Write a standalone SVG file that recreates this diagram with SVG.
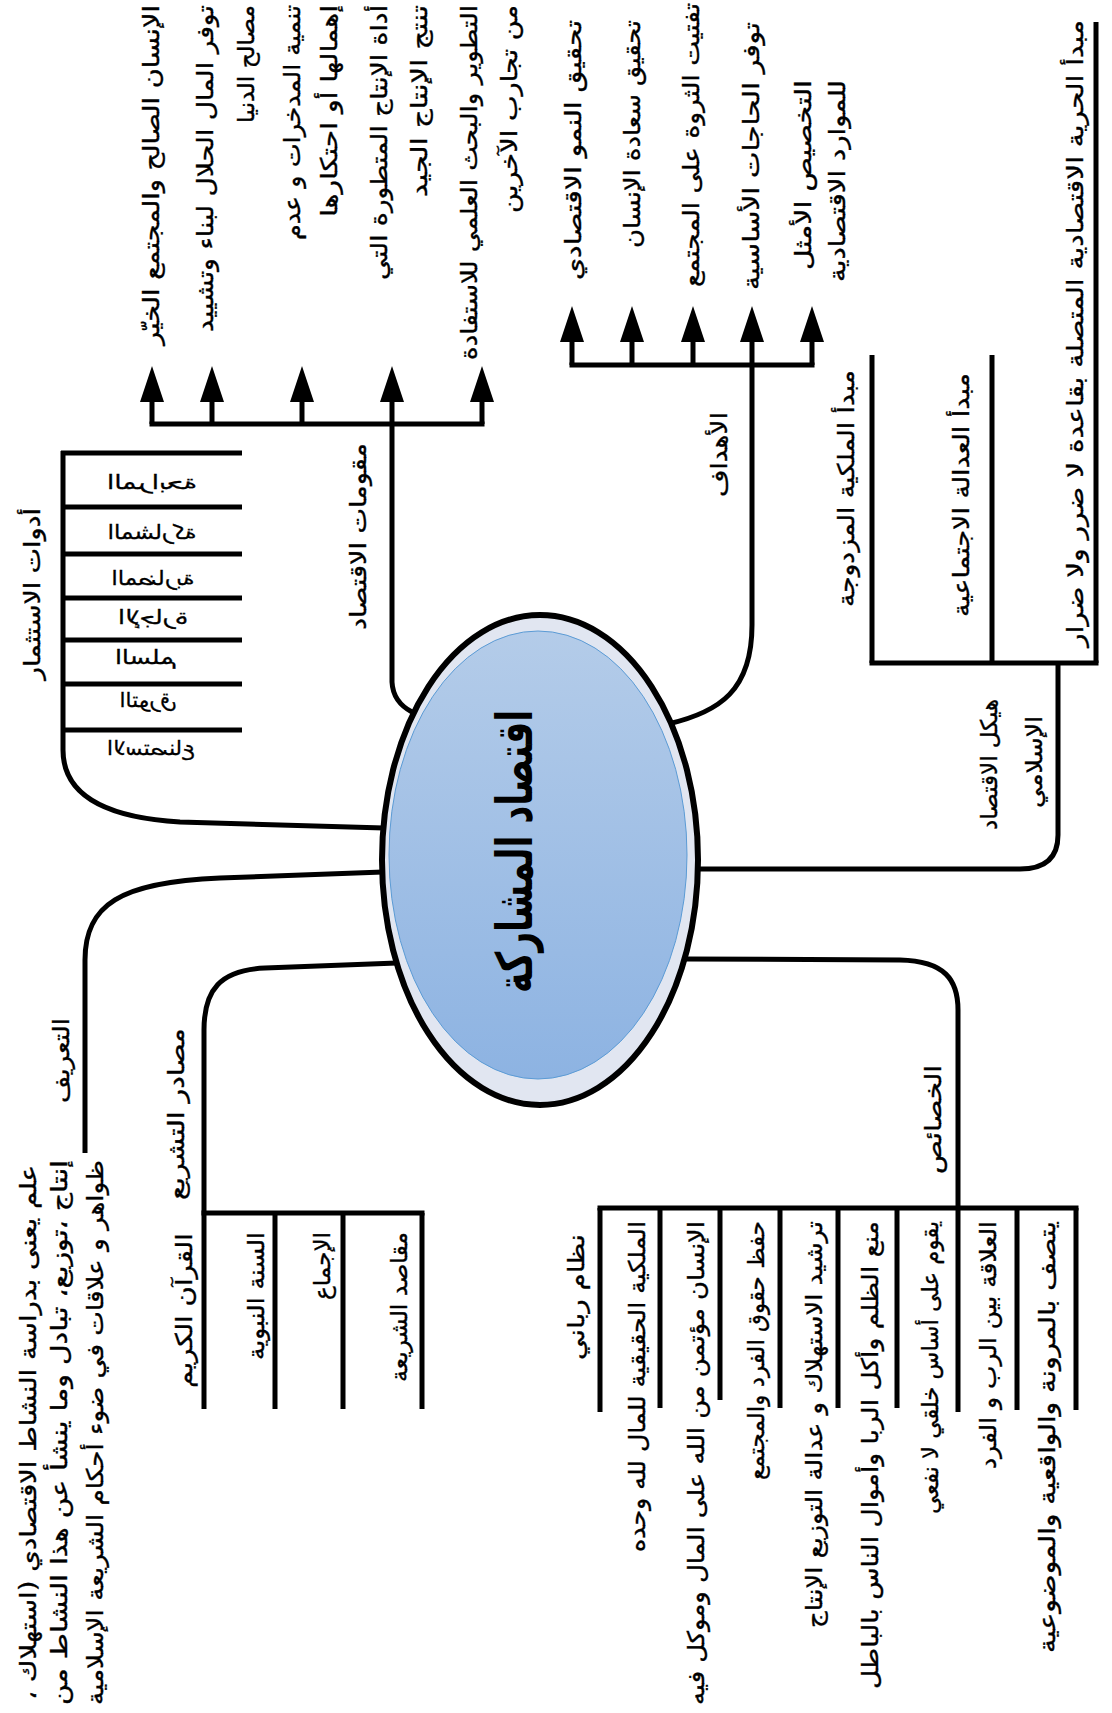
<svg xmlns="http://www.w3.org/2000/svg" width="1112" height="1713" viewBox="0 0 1112 1713">
<defs>
<linearGradient id="gBlue" x1="0" y1="0" x2="0" y2="1">
<stop offset="0" stop-color="#b4cce9"/>
<stop offset="1" stop-color="#8db3e2"/>
</linearGradient>
<marker id="ah" markerUnits="userSpaceOnUse" viewBox="0 0 36 24" markerWidth="36" markerHeight="24" refX="1" refY="12" orient="auto">
<path d="M0,0 L36,12 L0,24 Z" fill="#000"/>
</marker>
<style>
.ln{fill:none;stroke:#000;stroke-width:5}
.ar{fill:none;stroke:#000;stroke-width:5;marker-end:url(#ah)}
.t{font-family:"DejaVu Sans",sans-serif;font-size:23px;fill:#000;stroke:#000;stroke-width:0.35;direction:rtl;text-anchor:middle}
.c{font-family:"DejaVu Sans",sans-serif;font-size:50px;font-weight:bold;fill:#000;direction:rtl;text-anchor:middle}
.g{font-family:"DejaVu Sans",sans-serif;font-size:20px;fill:#000;stroke:#000;stroke-width:0.3;direction:rtl;text-anchor:middle}
</style>
</defs>
<rect width="1112" height="1713" fill="#fff"/>

<g id="connectors">
<path class="ln" d="M149.5,424 H484.5"/>
<path class="ar" d="M152,424 V401"/>
<path class="ar" d="M212,424 V401"/>
<path class="ar" d="M302,424 V401"/>
<path class="ar" d="M392,424 V401"/>
<path class="ar" d="M482,424 V401"/>
<path class="ln" d="M392,422 V682 Q393,702 412,712"/>
<path class="ln" d="M569.5,365 H814.5"/>
<path class="ar" d="M572,365 V341"/>
<path class="ar" d="M632,365 V341"/>
<path class="ar" d="M693,365 V341"/>
<path class="ar" d="M752,365 V341"/>
<path class="ar" d="M812,365 V341"/>
<path class="ln" d="M752,363 V625 C752,690 720,712 668,724"/>
<path class="ln" d="M869.5,663 H1098.5"/>
<path class="ln" d="M872,663 V355"/>
<path class="ln" d="M992,663 V355"/>
<path class="ln" d="M1096,663 V22"/>
<path class="ln" d="M1058,661 V835 Q1058,869 1020,869 H697"/>
<path class="ln" d="M63,451 V750 Q63,815 180,822 L384,828"/>
<path class="ln" d="M61,453 H242"/>
<path class="ln" d="M63,507 H242"/>
<path class="ln" d="M63,554 H242"/>
<path class="ln" d="M63,598 H242"/>
<path class="ln" d="M63,640 H242"/>
<path class="ln" d="M63,684 H242"/>
<path class="ln" d="M63,730 H242"/>
<path class="ln" d="M383,872 L220,878 C120,882 85,905 85,960 V1153"/>
<path class="ln" d="M397,963 L265,968 C220,970 204,990 204,1030 V1409"/>
<path class="ln" d="M201.5,1213 H424.5"/>
<path class="ln" d="M275,1213 V1409"/>
<path class="ln" d="M343,1213 V1409"/>
<path class="ln" d="M422,1213 V1409"/>
<path class="ln" d="M686,959 L900,960 C945,961 958,980 958,1010 V1412"/>
<path class="ln" d="M597.5,1208 H1078.5"/>
<path class="ln" d="M600,1208 V1412"/>
<path class="ln" d="M660,1208 V1408"/>
<path class="ln" d="M720,1208 V1400"/>
<path class="ln" d="M780,1208 V1408"/>
<path class="ln" d="M838,1208 V1408"/>
<path class="ln" d="M897,1208 V1408"/>
<path class="ln" d="M1017,1208 V1410"/>
<path class="ln" d="M1076,1208 V1410"/>
</g>

<g id="center">
<ellipse cx="540" cy="860" rx="158" ry="245" fill="#e1e6f1" stroke="#000" stroke-width="6"/>
<ellipse cx="538" cy="855" rx="149" ry="224" fill="url(#gBlue)" stroke="#5b9bd5" stroke-width="1"/>
<text class="c" transform="translate(532,851.5) rotate(-90)" textLength="283" lengthAdjust="spacingAndGlyphs">اقتصاد المشاركة</text>
</g>

<g id="n-muqawwimat">
<text class="t" transform="translate(366,536.5) rotate(-90)" textLength="187" lengthAdjust="spacingAndGlyphs">مقومات الاقتصاد</text>
</g>
<g id="n-muq-1"><text class="t" transform="translate(159,175) rotate(-90)" textLength="340" lengthAdjust="spacingAndGlyphs">الإنسان الصالح والمجتمع الخيّر</text></g>
<g id="n-muq-2">
<text class="t" transform="translate(213,168.5) rotate(-90)" textLength="327" lengthAdjust="spacingAndGlyphs">توفر المال الحلال لبناء وتشييد</text>
<text class="t" transform="translate(254,64) rotate(-90)" textLength="118" lengthAdjust="spacingAndGlyphs">مصالح الدنيا</text>
</g>
<g id="n-muq-3">
<text class="t" transform="translate(300,122.5) rotate(-90)" textLength="235" lengthAdjust="spacingAndGlyphs">تنمية المدخرات و عدم</text>
<text class="t" transform="translate(337,111) rotate(-90)" textLength="212" lengthAdjust="spacingAndGlyphs">إهمالها أو احتكارها</text>
</g>
<g id="n-muq-4">
<text class="t" transform="translate(387,142.5) rotate(-90)" textLength="275" lengthAdjust="spacingAndGlyphs">أداة الإنتاج المتطورة التي</text>
<text class="t" transform="translate(427,101) rotate(-90)" textLength="192" lengthAdjust="spacingAndGlyphs">تنتج الإنتاج الجيد</text>
</g>
<g id="n-muq-5">
<text class="t" transform="translate(477,182.5) rotate(-90)" textLength="355" lengthAdjust="spacingAndGlyphs">التطوير والبحث العلمي للاستفادة</text>
<text class="t" transform="translate(517,109) rotate(-90)" textLength="208" lengthAdjust="spacingAndGlyphs">من تجارب الآخرين</text>
</g>

<g id="n-ahdaf">
<text class="t" transform="translate(727,454.5) rotate(-90)" textLength="85" lengthAdjust="spacingAndGlyphs">الأهداف</text>
</g>
<g id="n-ahd-1"><text class="t" transform="translate(581,150) rotate(-90)" textLength="260" lengthAdjust="spacingAndGlyphs">تحقيق النمو الاقتصادي</text></g>
<g id="n-ahd-2"><text class="t" transform="translate(640,134) rotate(-90)" textLength="228" lengthAdjust="spacingAndGlyphs">تحقيق سعادة الإنسان</text></g>
<g id="n-ahd-3"><text class="t" transform="translate(699,145) rotate(-90)" textLength="284" lengthAdjust="spacingAndGlyphs">تفتيت الثروة على المجتمع</text></g>
<g id="n-ahd-4"><text class="t" transform="translate(759,156) rotate(-90)" textLength="268" lengthAdjust="spacingAndGlyphs">توفر الحاجات الأساسية</text></g>
<g id="n-ahd-5">
<text class="t" transform="translate(811,175) rotate(-90)" textLength="190" lengthAdjust="spacingAndGlyphs">التخصيص الأمثل</text>
<text class="t" transform="translate(845,181) rotate(-90)" textLength="202" lengthAdjust="spacingAndGlyphs">للموارد الاقتصادية</text>
</g>

<g id="n-haykal">
<text class="t" transform="translate(997,764.5) rotate(-90)" textLength="131" lengthAdjust="spacingAndGlyphs">هيكل الاقتصاد</text>
<text class="t" transform="translate(1042,762) rotate(-90)" textLength="92" lengthAdjust="spacingAndGlyphs">الإسلامي</text>
</g>
<g id="n-hay-1"><text class="t" transform="translate(854,488.5) rotate(-90)" textLength="237" lengthAdjust="spacingAndGlyphs">مبدأ الملكية المزدوجة</text></g>
<g id="n-hay-2"><text class="t" transform="translate(969,495) rotate(-90)" textLength="244" lengthAdjust="spacingAndGlyphs">مبدأ العدالة الاجتماعية</text></g>
<g id="n-hay-3"><text class="t" transform="translate(1083,333.5) rotate(-90)" textLength="627" lengthAdjust="spacingAndGlyphs">مبدأ الحرية الاقتصادية المتصلة بقاعدة لا ضرر ولا ضرار</text></g>

<g id="n-adawat">
<text class="t" transform="translate(40,594) rotate(-90)" textLength="172" lengthAdjust="spacingAndGlyphs">أدوات الاستثمار</text>
</g>
<g id="n-adw-items">
<text class="g" transform="translate(152,489) scale(-1,1)" textLength="90" lengthAdjust="spacingAndGlyphs">المرابحة</text>
<text class="g" transform="translate(152,539) scale(-1,1)" textLength="89" lengthAdjust="spacingAndGlyphs">المشاركة</text>
<text class="g" transform="translate(153,585) scale(-1,1)" textLength="83" lengthAdjust="spacingAndGlyphs">المضاربة</text>
<text class="g" transform="translate(153,624) scale(-1,1)" textLength="70" lengthAdjust="spacingAndGlyphs">الإجارة</text>
<text class="g" transform="translate(146,664) scale(-1,1)" textLength="62" lengthAdjust="spacingAndGlyphs">السلم</text>
<text class="g" transform="translate(148,707) scale(-1,1)" textLength="57" lengthAdjust="spacingAndGlyphs">التورق</text>
<text class="g" transform="translate(151,755) scale(-1,1)" textLength="88" lengthAdjust="spacingAndGlyphs">الاستصناع</text>
</g>

<g id="n-tarif">
<text class="t" transform="translate(69,1060.5) rotate(-90)" textLength="85" lengthAdjust="spacingAndGlyphs">التعريف</text>
</g>
<g id="n-tarif-def">
<text class="t" transform="translate(36,1432.5) rotate(-90)" textLength="535" lengthAdjust="spacingAndGlyphs">علم يعنى بدراسة النشاط الاقتصادي (استهلاك ،</text>
<text class="t" transform="translate(67,1432.5) rotate(-90)" textLength="545" lengthAdjust="spacingAndGlyphs">إنتاج ،توزيع، تبادل وما ينشأ عن هذا النشاط من</text>
<text class="t" transform="translate(103,1432.5) rotate(-90)" textLength="545" lengthAdjust="spacingAndGlyphs">ظواهر و علاقات في ضوء أحكام الشريعة الإسلامية</text>
</g>

<g id="n-masadir">
<text class="t" transform="translate(184,1114) rotate(-90)" textLength="172" lengthAdjust="spacingAndGlyphs">مصادر التشريع</text>
</g>
<g id="n-mas-1"><text class="t" transform="translate(192,1310.5) rotate(-90)" textLength="155" lengthAdjust="spacingAndGlyphs">القرآن الكريم</text></g>
<g id="n-mas-2"><text class="t" transform="translate(264,1296) rotate(-90)" textLength="128" lengthAdjust="spacingAndGlyphs">السنة النبوية</text></g>
<g id="n-mas-3"><text class="t" transform="translate(330,1266) rotate(-90)" textLength="68" lengthAdjust="spacingAndGlyphs">الإجماع</text></g>
<g id="n-mas-4"><text class="t" transform="translate(407,1307) rotate(-90)" textLength="150" lengthAdjust="spacingAndGlyphs">مقاصد الشريعة</text></g>

<g id="n-khasais">
<text class="t" transform="translate(941,1119.5) rotate(-90)" textLength="109" lengthAdjust="spacingAndGlyphs">الخصائص</text>
</g>
<g id="n-kh-1"><text class="t" transform="translate(584,1297) rotate(-90)" textLength="126" lengthAdjust="spacingAndGlyphs">نظام رباني</text></g>
<g id="n-kh-2"><text class="t" transform="translate(645,1386.5) rotate(-90)" textLength="331" lengthAdjust="spacingAndGlyphs">الملكية الحقيقية للمال لله وحده</text></g>
<g id="n-kh-3"><text class="t" transform="translate(704,1463) rotate(-90)" textLength="484" lengthAdjust="spacingAndGlyphs">الإنسان مؤتمن من الله على المال وموكل فيه</text></g>
<g id="n-kh-4"><text class="t" transform="translate(764,1350.5) rotate(-90)" textLength="259" lengthAdjust="spacingAndGlyphs">حفظ حقوق الفرد والمجتمع</text></g>
<g id="n-kh-5"><text class="t" transform="translate(822,1424.5) rotate(-90)" textLength="407" lengthAdjust="spacingAndGlyphs">ترشيد الاستهلاك و عدالة التوزيع الإنتاج</text></g>
<g id="n-kh-6"><text class="t" transform="translate(878,1455) rotate(-90)" textLength="468" lengthAdjust="spacingAndGlyphs">منع الظلم وأكل الربا وأموال الناس بالباطل</text></g>
<g id="n-kh-7"><text class="t" transform="translate(938,1367.5) rotate(-90)" textLength="293" lengthAdjust="spacingAndGlyphs">يقوم على أساس خلقي لا نفعي</text></g>
<g id="n-kh-8"><text class="t" transform="translate(996,1345) rotate(-90)" textLength="248" lengthAdjust="spacingAndGlyphs">العلاقة بين الرب و الفرد</text></g>
<g id="n-kh-9"><text class="t" transform="translate(1055,1437) rotate(-90)" textLength="432" lengthAdjust="spacingAndGlyphs">يتصف بالمرونة والواقعية والموضوعية</text></g>
</svg>
